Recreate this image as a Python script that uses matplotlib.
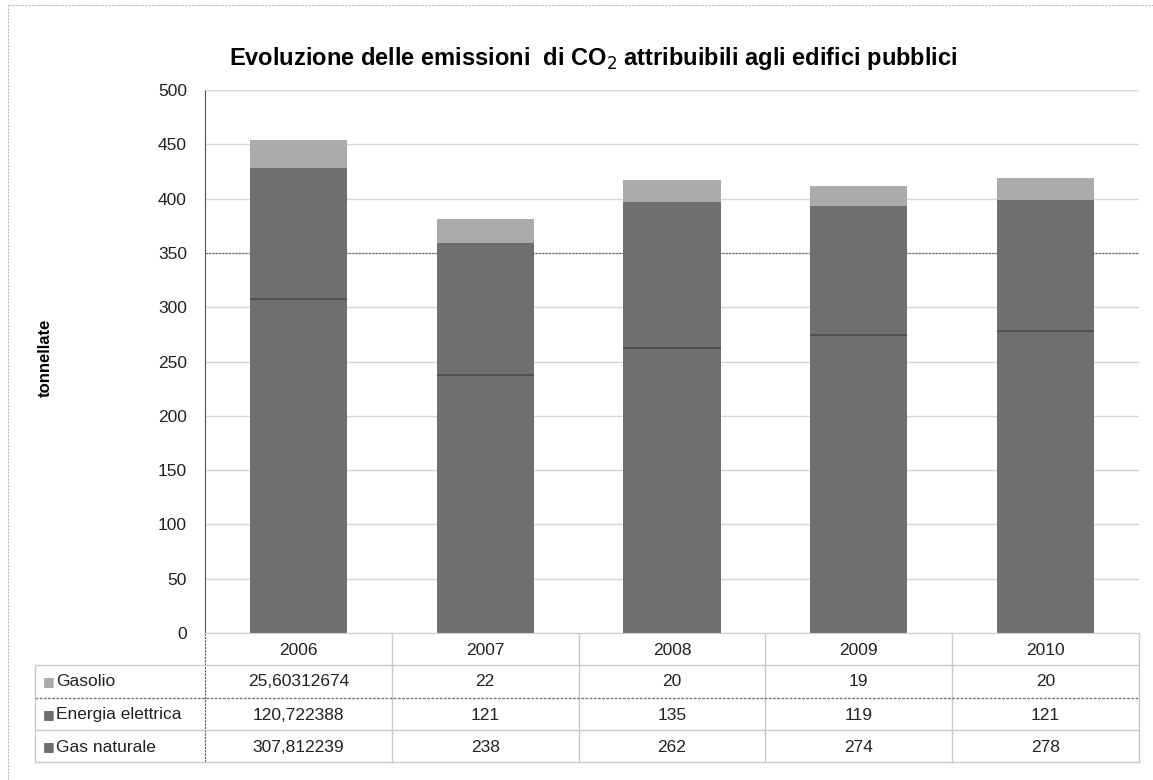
import numpy as np
import matplotlib.pyplot as plt
from matplotlib.transforms import blended_transform_factory
from matplotlib.lines import Line2D

years = ["2006", "2007", "2008", "2009", "2010"]
gasolio = [25.60312674, 22, 20, 19, 20]
energia = [120.722388, 121, 135, 119, 121]
gas_naturale = [307.812239, 238, 262, 274, 278]

series_names = ["Gasolio", "Energia elettrica", "Gas naturale"]
series_values = [gasolio, energia, gas_naturale]
series_colors = ["#ababab", "#6f6f6f", "#6f6f6f"]

plt.rcParams["font.family"] = ["Liberation Sans", "DejaVu Sans"]

W, H = 1153, 780
fig = plt.figure(figsize=(W / 100, H / 100), dpi=100)
ax = fig.add_axes([205 / W, 1 - 633 / H, (1139 - 205) / W, (633 - 90) / H])

x = np.arange(len(years))
width = 0.52
gas = np.array(gas_naturale)
ele = np.array(energia)
gso = np.array(gasolio)
ax.bar(x, gas, width, color=series_colors[2], zorder=2)
ax.bar(x, ele, width, bottom=gas, color=series_colors[1], zorder=2)
ax.bar(x, gso, width, bottom=gas + ele, color=series_colors[0], zorder=2)
# thin dark line where gas naturale ends
ax.hlines(gas, x - width / 2, x + width / 2, color="#474747", lw=1.1, zorder=3)

ax.set_xlim(-0.5, len(years) - 0.5)
ax.set_ylim(0, 500)
ax.set_yticks(np.arange(0, 501, 50))
ax.yaxis.grid(True, color="#d6d6d6", lw=1)
ax.set_axisbelow(True)
# the scanned original has a darker dotted line on 350
ax.axhline(350, color="#666666", lw=0.8, linestyle=(0, (2, 1)), zorder=1.5)
ax.tick_params(axis="y", length=0, pad=13, labelsize=12.5, labelcolor="#222222")
ax.set_xticks(x)
ax.set_xticklabels(years)
ax.tick_params(axis="x", length=0, pad=7, labelsize=12.5, labelcolor="#222222")
for s in ["top", "right"]:
    ax.spines[s].set_visible(False)
ax.spines["left"].set_color("#555555")
ax.spines["left"].set_linestyle((0, (2, 1)))
ax.spines["left"].set_linewidth(0.8)
ax.spines["bottom"].set_color("#cfcfcf")

ax.set_ylabel("tonnellate", fontsize=12, fontweight="bold", labelpad=0)
ax.yaxis.set_label_coords(-152 / 934, 0.506)

fig.text(593 / W, 1 - 58 / H,
         "Evoluzione delle emissioni  di CO$_2$ attribuibili agli edifici pubblici",
         ha="center", va="center", fontsize=17, fontweight="bold")

# data table under the chart
tr = blended_transform_factory(ax.transData, fig.transFigure)
line_c = "#c9c9c9"
row_edges = [665, 698, 730, 762]
row_centers = [682, 715, 747]
for yp in row_edges:
    dark = yp == 698
    fig.add_artist(Line2D([35 / W, 1139 / W], [1 - yp / H] * 2,
                          color="#777777" if dark else line_c, lw=1,
                          linestyle=(0, (2, 1)) if dark else "-"))
for xb in np.arange(len(years) + 1) - 0.5:
    first = xb == -0.5
    ax.add_line(Line2D([xb, xb], [1 - 633 / H, 1 - 762 / H], transform=tr,
                       color="#555555" if first else line_c, lw=0.8 if first else 1,
                       linestyle=(0, (2, 1)) if first else "-", clip_on=False))
fig.add_artist(Line2D([35 / W] * 2, [1 - 665 / H, 1 - 762 / H], color=line_c, lw=1))

for name, vals, col, yp in zip(series_names, series_values, series_colors, row_centers):
    fig.text(43 / W, 1 - yp / H, "■", color=col, fontsize=9, ha="left", va="center",
             family="DejaVu Sans")
    fig.text(56 / W, 1 - yp / H, name, fontsize=12.5, ha="left", va="center",
             color="#222222")
    for i, v in enumerate(vals):
        ax.text(i, 1 - yp / H, str(v).replace(".", ","), transform=tr,
                ha="center", va="center", fontsize=12.5, color="#222222")

# faint outer border of the chart area
fig.add_artist(Line2D([8 / W, 8 / W], [0, 1 - 5 / H], color="#bdbdbd", lw=0.8,
                      linestyle=(0, (2, 1))))
fig.add_artist(Line2D([8 / W, 1], [1 - 5 / H] * 2, color="#bdbdbd", lw=0.8,
                      linestyle=(0, (2, 1))))

fig.savefig("out.png", dpi=100)
